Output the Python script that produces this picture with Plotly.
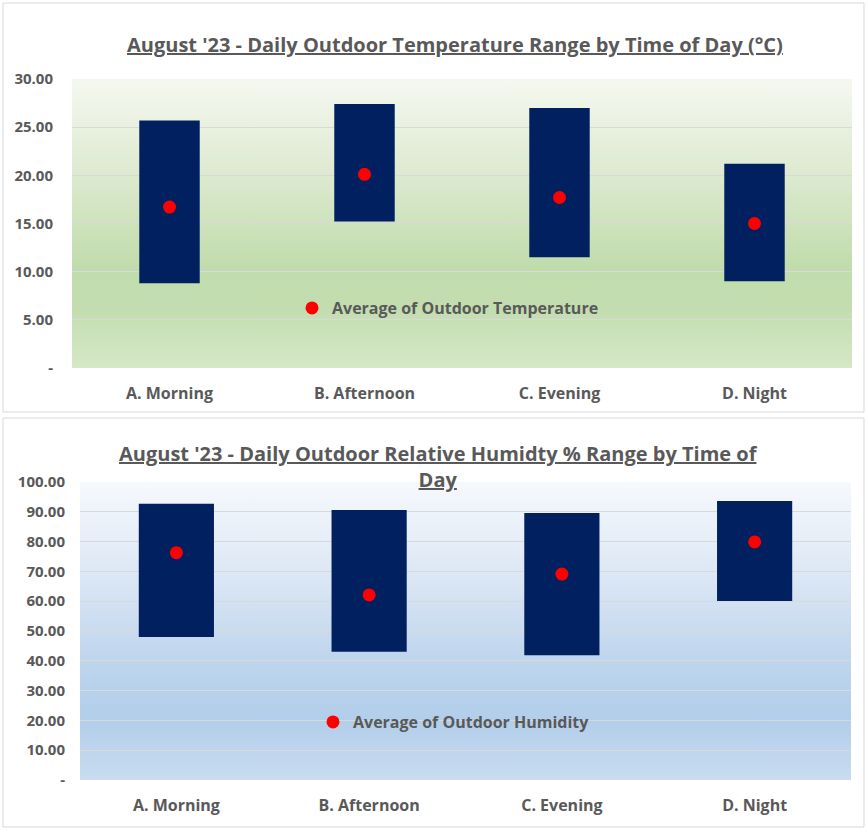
import base64
import plotly.graph_objects as go

periods = ["A. Morning", "B. Afternoon", "C. Evening", "D. Night"]

temp_min = [8.8, 15.2, 11.5, 9.0]
temp_max = [25.7, 27.4, 27.0, 21.2]
temp_avg = [16.7, 20.1, 17.7, 15.0]

hum_min = [48.0, 43.0, 41.9, 60.1]
hum_max = [92.7, 90.6, 89.6, 93.6]
hum_avg = [76.3, 62.1, 69.1, 79.9]

temp_ticks = [0, 5, 10, 15, 20, 25, 30]
hum_ticks = [0, 10, 20, 30, 40, 50, 60, 70, 80, 90, 100]

NAVY = "#002060"
RED = "#FF0000"
GREY = "#595959"
FONT = "Open Sans, sans-serif"


def gradient_uri(stops):
    # vertical svg gradient used as the plot area background
    s = "".join('<stop offset="%s" stop-color="%s"/>' % (o, c) for o, c in stops)
    svg = ('<svg xmlns="http://www.w3.org/2000/svg" width="10" height="100" preserveAspectRatio="none">'
           '<defs><linearGradient id="g" x1="0" y1="0" x2="0" y2="1">' + s +
           '</linearGradient></defs><rect width="10" height="100" fill="url(#g)"/></svg>')
    return "data:image/svg+xml;base64," + base64.b64encode(svg.encode()).decode()


def fmt(v):
    return "-" if v == 0 else "%.2f" % v


fig = go.Figure()

fig.add_trace(go.Bar(x=periods, y=[b - a for a, b in zip(temp_min, temp_max)], base=temp_min,
                     width=0.31, marker=dict(color=NAVY, line=dict(width=0)),
                     showlegend=False, xaxis="x", yaxis="y"))
fig.add_trace(go.Scatter(x=periods, y=temp_avg, mode="markers", name="Average of Outdoor Temperature",
                         marker=dict(color=RED, size=13), xaxis="x", yaxis="y", legend="legend"))

fig.add_trace(go.Bar(x=periods, y=[b - a for a, b in zip(hum_min, hum_max)], base=hum_min,
                     width=0.39, marker=dict(color=NAVY, line=dict(width=0)),
                     showlegend=False, xaxis="x2", yaxis="y2"))
fig.add_trace(go.Scatter(x=periods, y=hum_avg, mode="markers", name="Average of Outdoor Humidity",
                         marker=dict(color=RED, size=13), xaxis="x2", yaxis="y2", legend="legend2"))

W, H = 868, 832
tickfont = dict(family=FONT, size=15, color=GREY, weight="bold")
xfont = dict(family=FONT, size=16, color=GREY, weight="bold")
legfont = dict(family=FONT, size=16, color=GREY, weight="bold")
titlefont = dict(family=FONT, size=20, color=GREY, weight="bold")

axis_common = dict(showline=False, zeroline=False, ticks="", fixedrange=True)

fig.update_layout(
    width=W, height=H,
    margin=dict(l=0, r=0, t=0, b=0, autoexpand=False),
    paper_bgcolor="white",
    plot_bgcolor="rgba(0,0,0,0)",
    barmode="overlay",
    font=dict(family=FONT, color=GREY),
    xaxis=dict(domain=[72 / W, 852 / W], anchor="y", tickfont=xfont, showgrid=False,
               ticklabelstandoff=14, **axis_common),
    yaxis=dict(domain=[1 - 368 / H, 1 - 79 / H], anchor="x", range=[0, 30],
               tickvals=temp_ticks, ticktext=[fmt(v) for v in temp_ticks],
               tickfont=tickfont, gridcolor="#D9D9D9", gridwidth=1, ticklabelstandoff=18,
               **axis_common),
    xaxis2=dict(domain=[80 / W, 851 / W], anchor="y2", tickfont=xfont, showgrid=False,
                ticklabelstandoff=14, **axis_common),
    yaxis2=dict(domain=[1 - 780 / H, 1 - 482 / H], anchor="x2", range=[0, 100],
                tickvals=hum_ticks, ticktext=[fmt(v) for v in hum_ticks],
                tickfont=tickfont, gridcolor="#D9D9D9", gridwidth=1, ticklabelstandoff=14,
                **axis_common),
    legend=dict(x=292 / W, y=1 - 308 / H, xanchor="left", yanchor="middle",
                bgcolor="rgba(0,0,0,0)", itemwidth=30, font=legfont),
    legend2=dict(x=313 / W, y=1 - 722 / H, xanchor="left", yanchor="middle",
                 bgcolor="rgba(0,0,0,0)", itemwidth=30, font=legfont),
    images=[
        dict(source=gradient_uri([(0, "#F5F8F0"), (0.3, "#DFEBD3"), (0.65, "#C1DCAC"),
                                  (0.8, "#C3DDB0"), (1, "#D6E8C8")]),
             xref="x domain", yref="y domain", x=0, y=1, sizex=1, sizey=1,
             sizing="stretch", layer="below", xanchor="left", yanchor="top"),
        dict(source=gradient_uri([(0, "#F6F9FD"), (0.3, "#DDE8F5"), (0.6, "#BED5ED"),
                                  (0.8, "#B2CEEA"), (1, "#C9DCF0")]),
             xref="x2 domain", yref="y2 domain", x=0, y=1, sizex=1, sizey=1,
             sizing="stretch", layer="below", xanchor="left", yanchor="top"),
    ],
    shapes=[
        dict(type="rect", xref="paper", yref="paper", x0=3 / W, x1=864 / W,
             y0=1 - 412 / H, y1=1 - 3 / H, line=dict(color="#D9D9D9", width=1), layer="below"),
        dict(type="rect", xref="paper", yref="paper", x0=3 / W, x1=864 / W,
             y0=1 - 827 / H, y1=1 - 418 / H, line=dict(color="#D9D9D9", width=1), layer="below"),
    ],
    annotations=[
        dict(text="<u>August '23 - Daily Outdoor Temperature Range by Time of Day (°C)</u>",
             xref="paper", yref="paper", x=455 / W, y=1 - 45 / H, showarrow=False,
             xanchor="center", yanchor="middle", font=titlefont),
        dict(text="<u>August '23 - Daily Outdoor Relative Humidty % Range by Time of</u><br><u>Day</u>",
             xref="paper", yref="paper", x=438 / W, y=1 - 466 / H, showarrow=False,
             xanchor="center", yanchor="middle", font=titlefont),
    ],
)

fig.write_html("out.html", config={"displayModeBar": False},
               post_script="document.body.style.margin='0px';")
